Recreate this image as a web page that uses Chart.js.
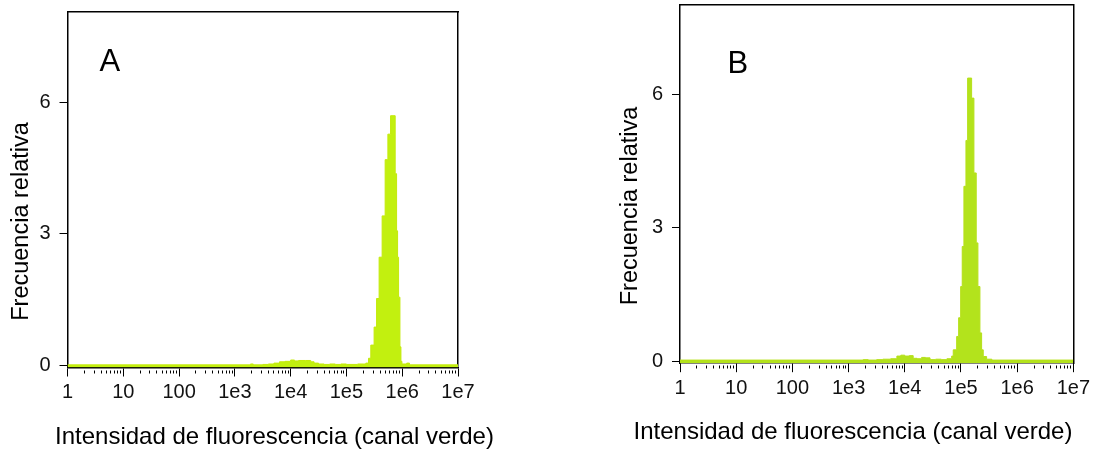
<!DOCTYPE html>
<html>
<head>
<meta charset="utf-8">
<script src="https://cdn.jsdelivr.net/npm/chart.js@4"></script>
<style>
  body { margin: 0; background: #fff; overflow: hidden; }
  canvas { position: absolute; }
  #chartA { left: 0px; top: -9px; }
  #chartB { left: 612px; top: -35px; }
</style>
</head>
<body>
<canvas id="chartA" width="549" height="461"></canvas>
<canvas id="chartB" width="482" height="482"></canvas>
<script>
// Histograms of green-channel fluorescence, two samples (A, B)
// x = log10 of intensity at the start of each bin, y = relative frequency

const binsA = [0, 3.28, 3.33, 3.5, 3.6, 3.7, 3.8, 3.9, 4.0, 4.07, 4.14, 4.27, 4.36, 4.42, 4.5, 4.6, 4.7, 4.8, 4.9, 5.0, 5.1, 5.2,
  5.30, 5.347, 5.396, 5.437, 5.496, 5.540, 5.586, 5.640, 5.694, 5.743, 5.791, 5.874, 5.899, 5.917, 5.935, 5.959, 5.977, 5.995,
  6.08, 6.13, 7];
const freqA = [0.02, 0.04, 0.02, 0.03, 0.04, 0.06, 0.09, 0.10, 0.13, 0.11, 0.12, 0.12, 0.09, 0.06, 0.04, 0.03, 0.04, 0.03, 0.04, 0.03, 0.03, 0.04,
  0.04, 0.06, 0.17, 0.47, 0.88, 1.53, 2.47, 3.41, 4.69, 5.27, 5.69, 4.37, 3.07, 2.47, 1.56, 0.43, 0.10, 0.04,
  0.06, 0.02, 0.02];

const binsB = [0, 3.26, 3.35, 3.5, 3.61, 3.75, 3.86, 3.93, 4.0, 4.08, 4.15, 4.22, 4.30, 4.37, 4.45, 4.55, 4.65, 4.75,
  4.835, 4.863, 4.924, 4.959, 4.995, 5.023, 5.053, 5.089, 5.119, 5.190, 5.231, 5.272, 5.302, 5.338, 5.368, 5.397, 5.457,
  5.55, 7];
const freqB = [0.03, 0.04, 0.03, 0.04, 0.05, 0.06, 0.12, 0.14, 0.12, 0.13, 0.07, 0.06, 0.09, 0.08, 0.04, 0.05, 0.04, 0.06,
  0.12, 0.26, 0.56, 0.98, 1.68, 2.58, 3.93, 4.96, 6.36, 5.91, 4.23, 2.66, 1.68, 0.64, 0.26, 0.11, 0.05,
  0.03, 0.03];

const decadeLabels = ["1", "10", "100", "1e3", "1e4", "1e5", "1e6", "1e7"];
const yTicks = [0, 3, 6];

const xTitle = "Intensidad de fluorescencia (canal verde)";
const yTitle = "Frecuencia relativa";
const FONT = "'Liberation Sans', Arial, sans-serif";

Chart.defaults.font.family = FONT;
Chart.defaults.color = "#111";

// tick positions on the log axis: 1..9 in every decade, plus the last decade
function logTicks() {
  const t = [];
  for (let d = 0; d < decadeLabels.length - 1; d++) {
    for (let k = 1; k < 10; k++) t.push(d + Math.log10(k));
  }
  t.push(decadeLabels.length - 1);
  return t;
}

function isDecade(v) {
  return Math.abs(v - Math.round(v)) < 1e-9;
}

// draws the "A" / "B" letter inside the plot
const panelLetter = {
  id: "panelLetter",
  afterDraw(chart, args, opts) {
    const { ctx, chartArea } = chart;
    ctx.save();
    ctx.font = "31px " + FONT;
    ctx.fillStyle = "#000";
    ctx.fillText(opts.text, chartArea.left + opts.dx, chartArea.top + opts.dy);
    ctx.restore();
  },
};

function makeChart(id, bins, freq, p) {
  const points = bins.map((b, i) => ({ x: b, y: freq[i] }));
  return new Chart(document.getElementById(id), {
    type: "line",
    data: {
      datasets: [{
        data: points,
        stepped: "before",
        fill: "start",
        backgroundColor: p.fill,
        borderColor: p.edge,
        borderWidth: 1,
        pointRadius: 0,
      }],
    },
    options: {
      responsive: false,
      animation: false,
      devicePixelRatio: 1,
      layout: { padding: 0 },
      plugins: {
        legend: { display: false },
        tooltip: { enabled: false },
        title: {
          display: true, text: xTitle, position: "bottom", color: "#000",
          font: { size: 24, weight: "normal" }, padding: 0,
        },
        subtitle: {
          display: true, text: yTitle, position: "left", color: "#000",
          font: { size: 23.5, weight: "normal" }, padding: { top: p.yTitlePad, bottom: 0 },
        },
        panelLetter: { text: p.letter, dx: p.letterDx, dy: p.letterDy },
      },
      scales: {
        x: {
          type: "linear", position: "bottom", min: 0, max: 7,
          afterBuildTicks: (s) => { s.ticks = logTicks().map((v) => ({ value: v })); },
          afterFit: (s) => { s.height = p.xAxisH; },
          ticks: {
            autoSkip: false, maxRotation: 0, padding: 4, color: "#111",
            font: { size: 20 },
            callback: (v) => (isDecade(v) ? decadeLabels[Math.round(v)] : ""),
          },
          grid: {
            drawOnChartArea: false, tickLength: 9, tickColor: "#000", tickWidth: 1,
            tickBorderDash: (c) => (isDecade(c.tick.value) ? [] : [0, 2, 3, 20]),
          },
          border: { display: true, color: "#000", width: 1.5 },
        },
        y: {
          position: "left", min: p.yMin, max: p.yMax,
          afterBuildTicks: (s) => { s.ticks = yTicks.map((v) => ({ value: v })); },
          afterFit: (s) => { s.width = p.yAxisW; },
          ticks: { padding: 7, color: "#111", font: { size: 20 } },
          grid: {
            drawOnChartArea: false, tickLength: 10, tickColor: "#000", tickWidth: 1,
            tickBorderDash: [0, 2, 8, 10],
          },
          border: { display: true, color: "#000", width: 1.5 },
        },
        // top and right axes only close the frame around the plot
        xTop: {
          type: "linear", position: "top", display: true,
          afterFit: (s) => { s.height = p.topH; },
          ticks: { display: false }, grid: { display: false },
          border: { display: true, color: "#000", width: 1.5 },
        },
        yRight: {
          position: "right", display: true,
          afterFit: (s) => { s.width = p.rightW; },
          ticks: { display: false }, grid: { display: false },
          border: { display: true, color: "#000", width: 1.5 },
        },
      },
    },
    plugins: [panelLetter],
  });
}

makeChart("chartA", binsA, freqA, {
  fill: "#c2f00f", edge: "#c4ea0c", letter: "A", letterDx: 32, letterDy: 58.5,
  yMin: -0.04, yMax: 8.05, yTitlePad: 7.9, yAxisW: 31.4, rightW: 91, topH: 21, xAxisH: 55.7,
});

makeChart("chartB", binsB, freqB, {
  fill: "#b3e31c", edge: "#b6e01a", letter: "B", letterDx: 47.5, letterDy: 67.5,
  yMin: -0.04, yMax: 8.0, yTitlePad: 4.9, yAxisW: 34.9, rightW: 19, topH: 40, xAxisH: 55,
});
</script>
</body>
</html>
